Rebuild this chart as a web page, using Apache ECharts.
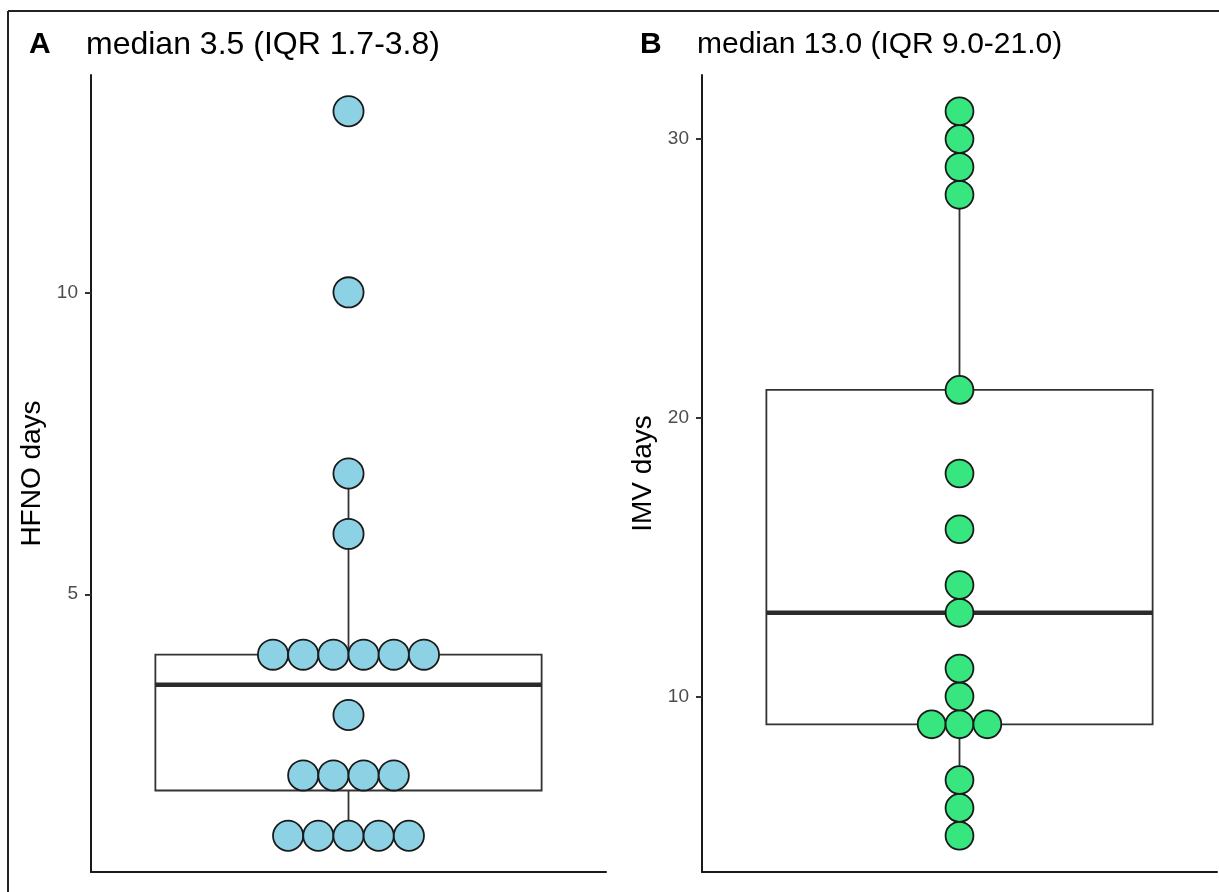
<!DOCTYPE html>
<html><head><meta charset="utf-8">
<script src="https://cdn.jsdelivr.net/npm/echarts@6/dist/echarts.min.js"></script>
<style>html,body{margin:0;padding:0;background:#fff}#c{width:1219px;height:892px}</style>
</head><body><div id="c"></div>
<script>
// ---- data ----
const hfnoDays = [1,1,1,1,1,2,2,2,2,3,4,4,4,4,4,4,6,7,10,13];
const imvDays  = [5,6,7,9,9,9,10,11,13,14,16,18,21,28,29,30,31];
const hfnoTicks = [5,10];
const imvTicks  = [10,20,30];
const panelLetters = ['A','B'];
const panelTitles  = ['median 3.5 (IQR 1.7-3.8)','median 13.0 (IQR 9.0-21.0)'];
const axisNames    = ['HFNO days','IMV days'];
const binWidths    = [0.5, 1];
const dotColors    = ['#8dd2e4','#38e67f'];

// ---- helpers ----
const FONT = '"Liberation Sans", Arial, sans-serif';
function quantile(s,p){const h=(s.length-1)*p,lo=Math.floor(h),hi=Math.ceil(h);return s[lo]+(h-lo)*(s[hi]-s[lo]);}
function boxStats(arr){
  const s=[...arr].sort((a,b)=>a-b);
  const q1=quantile(s,.25),med=quantile(s,.5),q3=quantile(s,.75),iqr=q3-q1;
  const lo=Math.min(...s.filter(v=>v>=q1-1.5*iqr)), hi=Math.max(...s.filter(v=>v<=q3+1.5*iqr));
  return [lo,q1,med,q3,hi];
}
function dotStack(arr){
  const counts={}; arr.forEach(v=>counts[v]=(counts[v]||0)+1);
  const out=[]; Object.keys(counts).forEach(k=>{const n=counts[k];for(let i=0;i<n;i++)out.push([Number(k), i-(n-1)/2]);});
  return out;
}
function range(arr){const mn=Math.min(...arr),mx=Math.max(...arr),e=(mx-mn)*0.05;return [mn-e,mx+e];}

function renderBox(params, api){
  const lo=api.value(0),q1=api.value(1),med=api.value(2),q3=api.value(3),hi=api.value(4);
  const xl=api.coord([-0.45,q1])[0], xr=api.coord([0.45,q1])[0], xc=api.coord([0,q1])[0];
  const y=v=>api.coord([0,v])[1];
  const ls={stroke:'#333333',lineWidth:1.8};
  return {type:'group',children:[
    {type:'line',shape:{x1:xc,y1:y(q3),x2:xc,y2:y(hi)},style:ls},
    {type:'line',shape:{x1:xc,y1:y(q1),x2:xc,y2:y(lo)},style:ls},
    {type:'rect',shape:{x:xl,y:y(q3),width:xr-xl,height:y(q1)-y(q3)},style:{fill:'#fff',stroke:'#333333',lineWidth:1.8}},
    {type:'line',shape:{x1:xl,y1:y(med),x2:xr,y2:y(med)},style:{stroke:'#2b2b2b',lineWidth:4.5}}
  ]};
}
function dotRenderer(bw,color){
  return function(params,api){
    const v=api.value(0),k=api.value(1);
    const c=api.coord([0,v]); const d=api.size([0,bw])[1];
    return {type:'circle',shape:{cx:c[0]+k*d,cy:c[1],r:d/2},style:{fill:color,stroke:'#1a1a1a',lineWidth:1.8}};
  };
}

const datasets=[hfnoDays,imvDays], ticks=[hfnoTicks,imvTicks];
const grids=[{left:91,top:75,width:515,bottom:20},{left:702,top:75,width:515,bottom:20}];
const xAxes=[],yAxes=[],series=[];
datasets.forEach((d,i)=>{
  const r=range(d);
  xAxes.push({type:'value',gridIndex:i,min:-0.6,max:0.6,
    axisLine:{show:true,onZero:false,lineStyle:{color:'#1a1a1a',width:2}},
    axisTick:{show:false},axisLabel:{show:false},splitLine:{show:false}});
  yAxes.push({type:'value',gridIndex:i,min:r[0],max:r[1],
    name:axisNames[i],nameLocation:'middle',nameGap:45,
    nameTextStyle:{fontSize:28,color:'#000',fontFamily:FONT},
    axisLine:{show:true,onZero:false,lineStyle:{color:'#1a1a1a',width:2}},
    axisTick:{show:true,length:6,customValues:ticks[i],lineStyle:{color:'#333',width:2}},
    axisLabel:{customValues:ticks[i],fontSize:19,color:'#4d4d4d',margin:13,fontFamily:FONT},
    splitLine:{show:false}});
  series.push({type:'custom',xAxisIndex:i,yAxisIndex:i,renderItem:renderBox,
    encode:{y:[0,1,2,3,4]},data:[boxStats(d)],z:2,silent:true});
  series.push({type:'custom',xAxisIndex:i,yAxisIndex:i,renderItem:dotRenderer(binWidths[i],dotColors[i]),
    encode:{y:0},data:dotStack(d),z:3,silent:true});
});

const chart=echarts.init(document.getElementById('c'),null,{renderer:'canvas'});
chart.setOption({
  animation:false,
  backgroundColor:'#fff',
  grid:grids,xAxis:xAxes,yAxis:yAxes,series:series,
  graphic:[
    {type:'line',shape:{x1:8,y1:11,x2:1219,y2:11},style:{stroke:'#222',lineWidth:2}},
    {type:'line',shape:{x1:8,y1:11,x2:8,y2:892},style:{stroke:'#222',lineWidth:2}},
    {type:'text',x:29,y:45,style:{text:panelLetters[0],font:'bold 30px '+FONT,fill:'#000',textVerticalAlign:'middle'}},
    {type:'text',x:86,y:45,style:{text:panelTitles[0],font:'32px '+FONT,fill:'#000',textVerticalAlign:'middle'}},
    {type:'text',x:640,y:45,style:{text:panelLetters[1],font:'bold 30px '+FONT,fill:'#000',textVerticalAlign:'middle'}},
    {type:'text',x:697,y:45,style:{text:panelTitles[1],font:'30px '+FONT,fill:'#000',textVerticalAlign:'middle'}}
  ]
});
</script></body></html>
